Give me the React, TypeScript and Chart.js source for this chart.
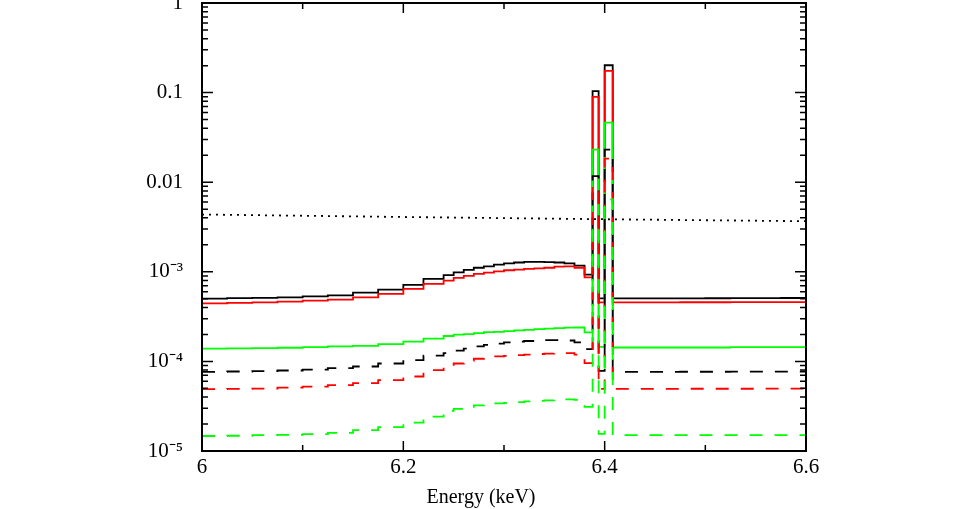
import React, { useEffect, useRef } from 'react';
import { Chart, registerables } from 'chart.js';

Chart.register(...registerables);

// Histogram bin edges (keV)
const binEdges = [
  6.0, 6.025, 6.05, 6.075, 6.1, 6.125, 6.15, 6.175, 6.2, 6.22, 6.24,
  6.25, 6.26, 6.27, 6.28, 6.29, 6.3, 6.31, 6.32, 6.33, 6.34, 6.35, 6.36, 6.37, 6.38,
  6.388, 6.394, 6.4, 6.408,
  6.425, 6.45, 6.475, 6.5, 6.525, 6.55, 6.575, 6.6,
];

// Values per bin (bin i spans binEdges[i]..binEdges[i+1])
const blackSolid = [
  5.01e-4, 5.08e-4, 5.11e-4, 5.19e-4, 5.32e-4, 5.46e-4, 5.85e-4, 6.32e-4, 7.13e-4, 8.33e-4,
  9.18e-4, 9.85e-4, 1.05e-3, 1.11e-3, 1.15e-3, 1.2e-3, 1.24e-3, 1.27e-3, 1.29e-3, 1.29e-3,
  1.28e-3, 1.27e-3, 1.24e-3, 1.17e-3, 9.3e-4,
  0.104, 5.05e-4, 0.202,
  5.05e-4, 5.05e-4, 5.06e-4, 5.06e-4, 5.07e-4, 5.08e-4, 5.09e-4, 5.1e-4,
];
const redSolid = [
  4.44e-4, 4.49e-4, 4.56e-4, 4.64e-4, 4.76e-4, 4.89e-4, 5.19e-4, 5.66e-4, 6.44e-4, 7.32e-4,
  7.97e-4, 8.55e-4, 9.0e-4, 9.48e-4, 9.8e-4, 1.01e-3, 1.04e-3, 1.06e-3, 1.08e-3, 1.09e-3,
  1.11e-3, 1.14e-3, 1.15e-3, 1.11e-3, 8.67e-4,
  0.0895, 4.56e-4, 0.175,
  4.56e-4, 4.56e-4, 4.56e-4, 4.57e-4, 4.57e-4, 4.58e-4, 4.58e-4, 4.59e-4,
];
const greenSolid = [
  1.39e-4, 1.4e-4, 1.41e-4, 1.42e-4, 1.44e-4, 1.47e-4, 1.49e-4, 1.56e-4, 1.66e-4, 1.8e-4,
  1.92e-4, 1.99e-4, 2.02e-4, 2.07e-4, 2.12e-4, 2.14e-4, 2.18e-4, 2.22e-4, 2.25e-4, 2.29e-4,
  2.32e-4, 2.35e-4, 2.38e-4, 2.39e-4, 2.11e-4,
  0.0231, 1.45e-4, 0.0463,
  1.43e-4, 1.43e-4, 1.43e-4, 1.43e-4, 1.43e-4, 1.44e-4, 1.44e-4, 1.44e-4,
];
const blackDashed = [
  7.65e-5, 7.71e-5, 7.78e-5, 7.91e-5, 8.11e-5, 8.41e-5, 8.77e-5, 9.48e-5, 1.035e-4, 1.16e-4,
  1.24e-4, 1.32e-4, 1.39e-4, 1.47e-4, 1.53e-4, 1.58e-4, 1.63e-4, 1.66e-4, 1.69e-4, 1.71e-4,
  1.73e-4, 1.73e-4, 1.71e-4, 1.63e-4, 1.37e-4,
  0.0117, 7.85e-5, 0.0231,
  7.65e-5, 7.65e-5, 7.65e-5, 7.66e-5, 7.66e-5, 7.67e-5, 7.67e-5, 7.68e-5,
];
const redDashed = [
  4.9e-5, 4.94e-5, 4.98e-5, 5.1e-5, 5.24e-5, 5.43e-5, 5.72e-5, 6.18e-5, 6.78e-5, 8.0e-5,
  8.7e-5, 9.48e-5, 1.016e-4, 1.07e-4, 1.11e-4, 1.135e-4, 1.155e-4, 1.175e-4, 1.19e-4, 1.21e-4,
  1.22e-4, 1.23e-4, 1.24e-4, 1.19e-4, 9.57e-5,
  9.04e-3, 4.94e-5, 0.0183,
  4.94e-5, 4.94e-5, 4.94e-5, 4.95e-5, 4.95e-5, 4.95e-5, 4.96e-5, 4.96e-5,
];
const greenDashed = [
  1.47e-5, 1.48e-5, 1.5e-5, 1.51e-5, 1.54e-5, 1.59e-5, 1.71e-5, 1.85e-5, 2.07e-5, 2.42e-5,
  2.8e-5, 2.95e-5, 3.1e-5, 3.23e-5, 3.33e-5, 3.4e-5, 3.44e-5, 3.51e-5, 3.58e-5, 3.62e-5,
  3.67e-5, 3.72e-5, 3.77e-5, 3.72e-5, 3.1e-5,
  3.2e-3, 1.55e-5, 6.43e-3,
  1.5e-5, 1.5e-5, 1.5e-5, 1.5e-5, 1.5e-5, 1.5e-5, 1.5e-5, 1.5e-5,
];

// Dotted continuum line
const dottedX = [6.0, 6.2, 6.4, 6.6];
const dottedY = [4.36e-3, 4.09e-3, 3.86e-3, 3.67e-3];

// Axis ticks
const xTicks = [6, 6.2, 6.4, 6.6];
const xTickLabels = ['6', '6.2', '6.4', '6.6'];
const xMinorTicks = [6.1, 6.3, 6.5];
const yTicks = [1e-5, 1e-4, 1e-3, 0.01, 0.1, 1];
const yTickLabels = ['10\u207B\u2075', '10\u207B\u2074', '10\u207B\u00B3', '0.01', '0.1', '1'];
const xTitle = 'Energy (keV)';

const FONT = '"Liberation Serif", "Times New Roman", serif';

function histPoints(vals: number[]) {
  return binEdges.map((e, i) => ({ x: e, y: vals[Math.min(i, vals.length - 1)] }));
}

const framePlugin = {
  id: 'frameTicks',
  afterDraw(chart: any) {
    const { ctx, chartArea, width } = chart;
    const { left, right, top, bottom } = chartArea;
    const xs = chart.scales.x;
    const ys = chart.scales.y;
    ctx.save();
    ctx.strokeStyle = '#000';
    ctx.lineWidth = 1.5;
    ctx.beginPath();
    for (let d = -5; d <= 0; d++) {
      for (let m = 1; m <= 9; m++) {
        const v = m * Math.pow(10, d);
        if (v > 1.0000001) break;
        const py = ys.getPixelForValue(v);
        const len = m === 1 ? 11 : 6;
        ctx.moveTo(left, py);
        ctx.lineTo(left + len, py);
        ctx.moveTo(right, py);
        ctx.lineTo(right - len, py);
      }
    }
    xTicks.forEach((v) => {
      const px = xs.getPixelForValue(v);
      ctx.moveTo(px, bottom);
      ctx.lineTo(px, bottom - 10);
      ctx.moveTo(px, top);
      ctx.lineTo(px, top + 10);
    });
    xMinorTicks.forEach((v) => {
      const px = xs.getPixelForValue(v);
      ctx.moveTo(px, bottom);
      ctx.lineTo(px, bottom - 6);
      ctx.moveTo(px, top);
      ctx.lineTo(px, top + 6);
    });
    ctx.stroke();
    ctx.lineWidth = 2;
    ctx.strokeRect(left, top, right - left, bottom - top);
    ctx.fillStyle = '#000';
    ctx.font = '20px ' + FONT;
    ctx.textAlign = 'center';
    ctx.textBaseline = 'alphabetic';
    ctx.fillText(xTitle, width / 2 + 1, 503);
    ctx.restore();
  },
};

export default function App() {
  const ref = useRef<HTMLCanvasElement | null>(null);
  useEffect(() => {
    document.body.style.margin = '0';
    document.body.style.background = '#fff';
    const canvas = ref.current;
    if (!canvas) return;
    const mk = (data: any[], color: string, dash: number[], order: number, stepped: any = 'before') => ({
      data,
      borderColor: color,
      borderWidth: 1.8,
      borderDash: dash,
      pointRadius: 0,
      fill: false,
      tension: 0,
      stepped,
      order,
    });
    const chart = new Chart(canvas, {
      type: 'line',
      data: {
        datasets: [
          mk(histPoints(blackSolid), '#000000', [], 7),
          mk(histPoints(redSolid), '#ff0000', [], 6),
          mk(histPoints(greenSolid), '#00ff00', [], 5),
          mk(histPoints(blackDashed), '#000000', [13, 12], 4),
          mk(histPoints(redDashed), '#ff0000', [13, 12], 3),
          mk(histPoints(greenDashed), '#00ff00', [13, 12], 2),
          mk(dottedX.map((x, i) => ({ x, y: dottedY[i] })), '#000000', [2, 5], 1, false),
        ] as any,
      },
      options: {
        responsive: false,
        animation: false,
        devicePixelRatio: 1,
        layout: { padding: { left: 0, right: 154, top: 3, bottom: 0 } },
        plugins: { legend: { display: false }, tooltip: { enabled: false } },
        scales: {
          x: {
            type: 'linear',
            min: 6,
            max: 6.6,
            grid: { display: false, drawTicks: false },
            border: { display: false },
            afterBuildTicks: (s: any) => {
              s.ticks = xTicks.map((v) => ({ value: v }));
            },
            afterFit: (s: any) => {
              s.height = 58;
              s.paddingLeft = 0;
              s.paddingRight = 0;
              s.paddingTop = 0;
              s.paddingBottom = 0;
            },
            ticks: {
              autoSkip: false,
              maxRotation: 0,
              padding: 4,
              color: '#000',
              font: { family: FONT, size: 21 },
              callback: (_v: any, i: number) => xTickLabels[i],
            },
          },
          y: {
            type: 'logarithmic',
            min: 1e-5,
            max: 1,
            grid: { display: false, drawTicks: false },
            border: { display: false },
            afterBuildTicks: (s: any) => {
              s.ticks = yTicks.map((v) => ({ value: v }));
            },
            afterFit: (s: any) => {
              s.width = 202;
              s.paddingTop = 0;
              s.paddingBottom = 0;
              s.paddingLeft = 0;
              s.paddingRight = 0;
            },
            ticks: {
              autoSkip: false,
              padding: 19,
              color: '#000',
              font: { family: FONT, size: 21 },
              callback: (_v: any, i: number) => yTickLabels[i],
            },
          },
        },
      } as any,
      plugins: [framePlugin],
    });
    return () => chart.destroy();
  }, []);
  return <canvas ref={ref} width={960} height={509} style={{ display: 'block' }} />;
}
